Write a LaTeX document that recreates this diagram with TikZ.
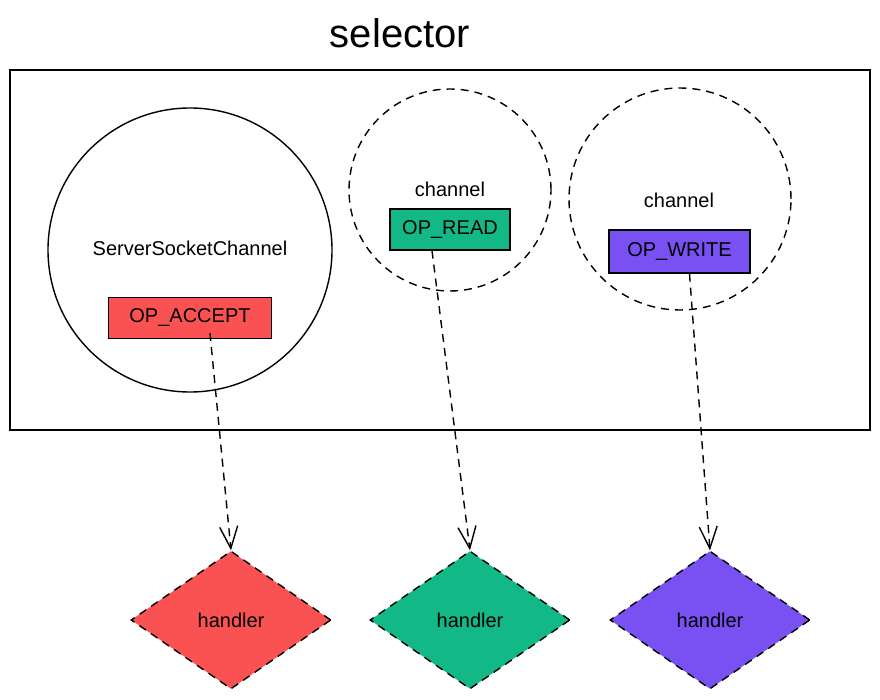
\documentclass[tikz,border=0pt]{standalone}
\usepackage{fontspec}
\setmainfont{Liberation Sans}
\definecolor{accred}{RGB}{250, 82, 82}
\definecolor{readgreen}{RGB}{18, 184, 134}
\definecolor{writeviolet}{RGB}{121, 80, 242}
\usetikzlibrary{shapes, arrows.meta, positioning, calc}

\begin{document}
\begin{tikzpicture}[x=0.5pt, y=-0.5pt,
    chan/.style={draw, circle, line width=0.7pt, inner sep=0pt},
    opbox/.style={draw, line width=0.7pt, inner sep=0pt, minimum height=20.5pt},
    hnd/.style={draw, diamond, dash pattern=on 4pt off 3pt, line width=0.7pt, inner sep=0pt, minimum width=100pt, minimum height=69pt},
    link/.style={dash pattern=on 4pt off 3pt, line width=0.7pt, -{Straight Barb[length=11pt, width=9pt]}}]
  \useasboundingbox (0,0) rectangle (880,700);

  % Title
  \node[font=\fontsize{20}{24}\selectfont] (title) at (400,33) {selector};

  % Selector frame
  \draw[line width=0.8pt] (10,70) rectangle (870,430);

  % Channel 1: ServerSocketChannel
  \node[chan, minimum size=142pt] (sschan) at (190,250) {};
  \node (ssname) at (190,248) {ServerSocketChannel};
  \node[opbox, fill=accred, minimum width=81.5pt] (accept) at (190,318) {OP\_ACCEPT};

  % Channel 2: read
  \node[chan, dash pattern=on 4pt off 3pt, minimum size=101pt] (rchan) at (450,190) {};
  \node (rname) at (450,189) {channel};
  \node[opbox, fill=readgreen, minimum width=60pt] (read) at (450,229.5) {OP\_READ};

  % Channel 3: write
  \node[chan, dash pattern=on 4pt off 3pt, minimum size=111pt] (wchan) at (680,199) {};
  \node (wname) at (679,200) {channel};
  \node[opbox, fill=writeviolet, minimum width=70.5pt, minimum height=21.5pt] (write) at (679.5,251.5) {OP\_WRITE};

  % Handlers
  \node[hnd, fill=accred] (h1) at (231,620) {handler};
  \node[hnd, fill=readgreen] (h2) at (470,620) {handler};
  \node[hnd, fill=writeviolet] (h3) at (710,620) {handler};

  % Dispatch
  \draw[link] ([xshift=10pt, yshift=3pt]accept.south) -- (h1.north);
  \draw[link] ([xshift=-9pt]read.south) -- (h2.north);
  \draw[link] ([xshift=5pt]write.south) -- (h3.north);
\end{tikzpicture}
\end{document}
